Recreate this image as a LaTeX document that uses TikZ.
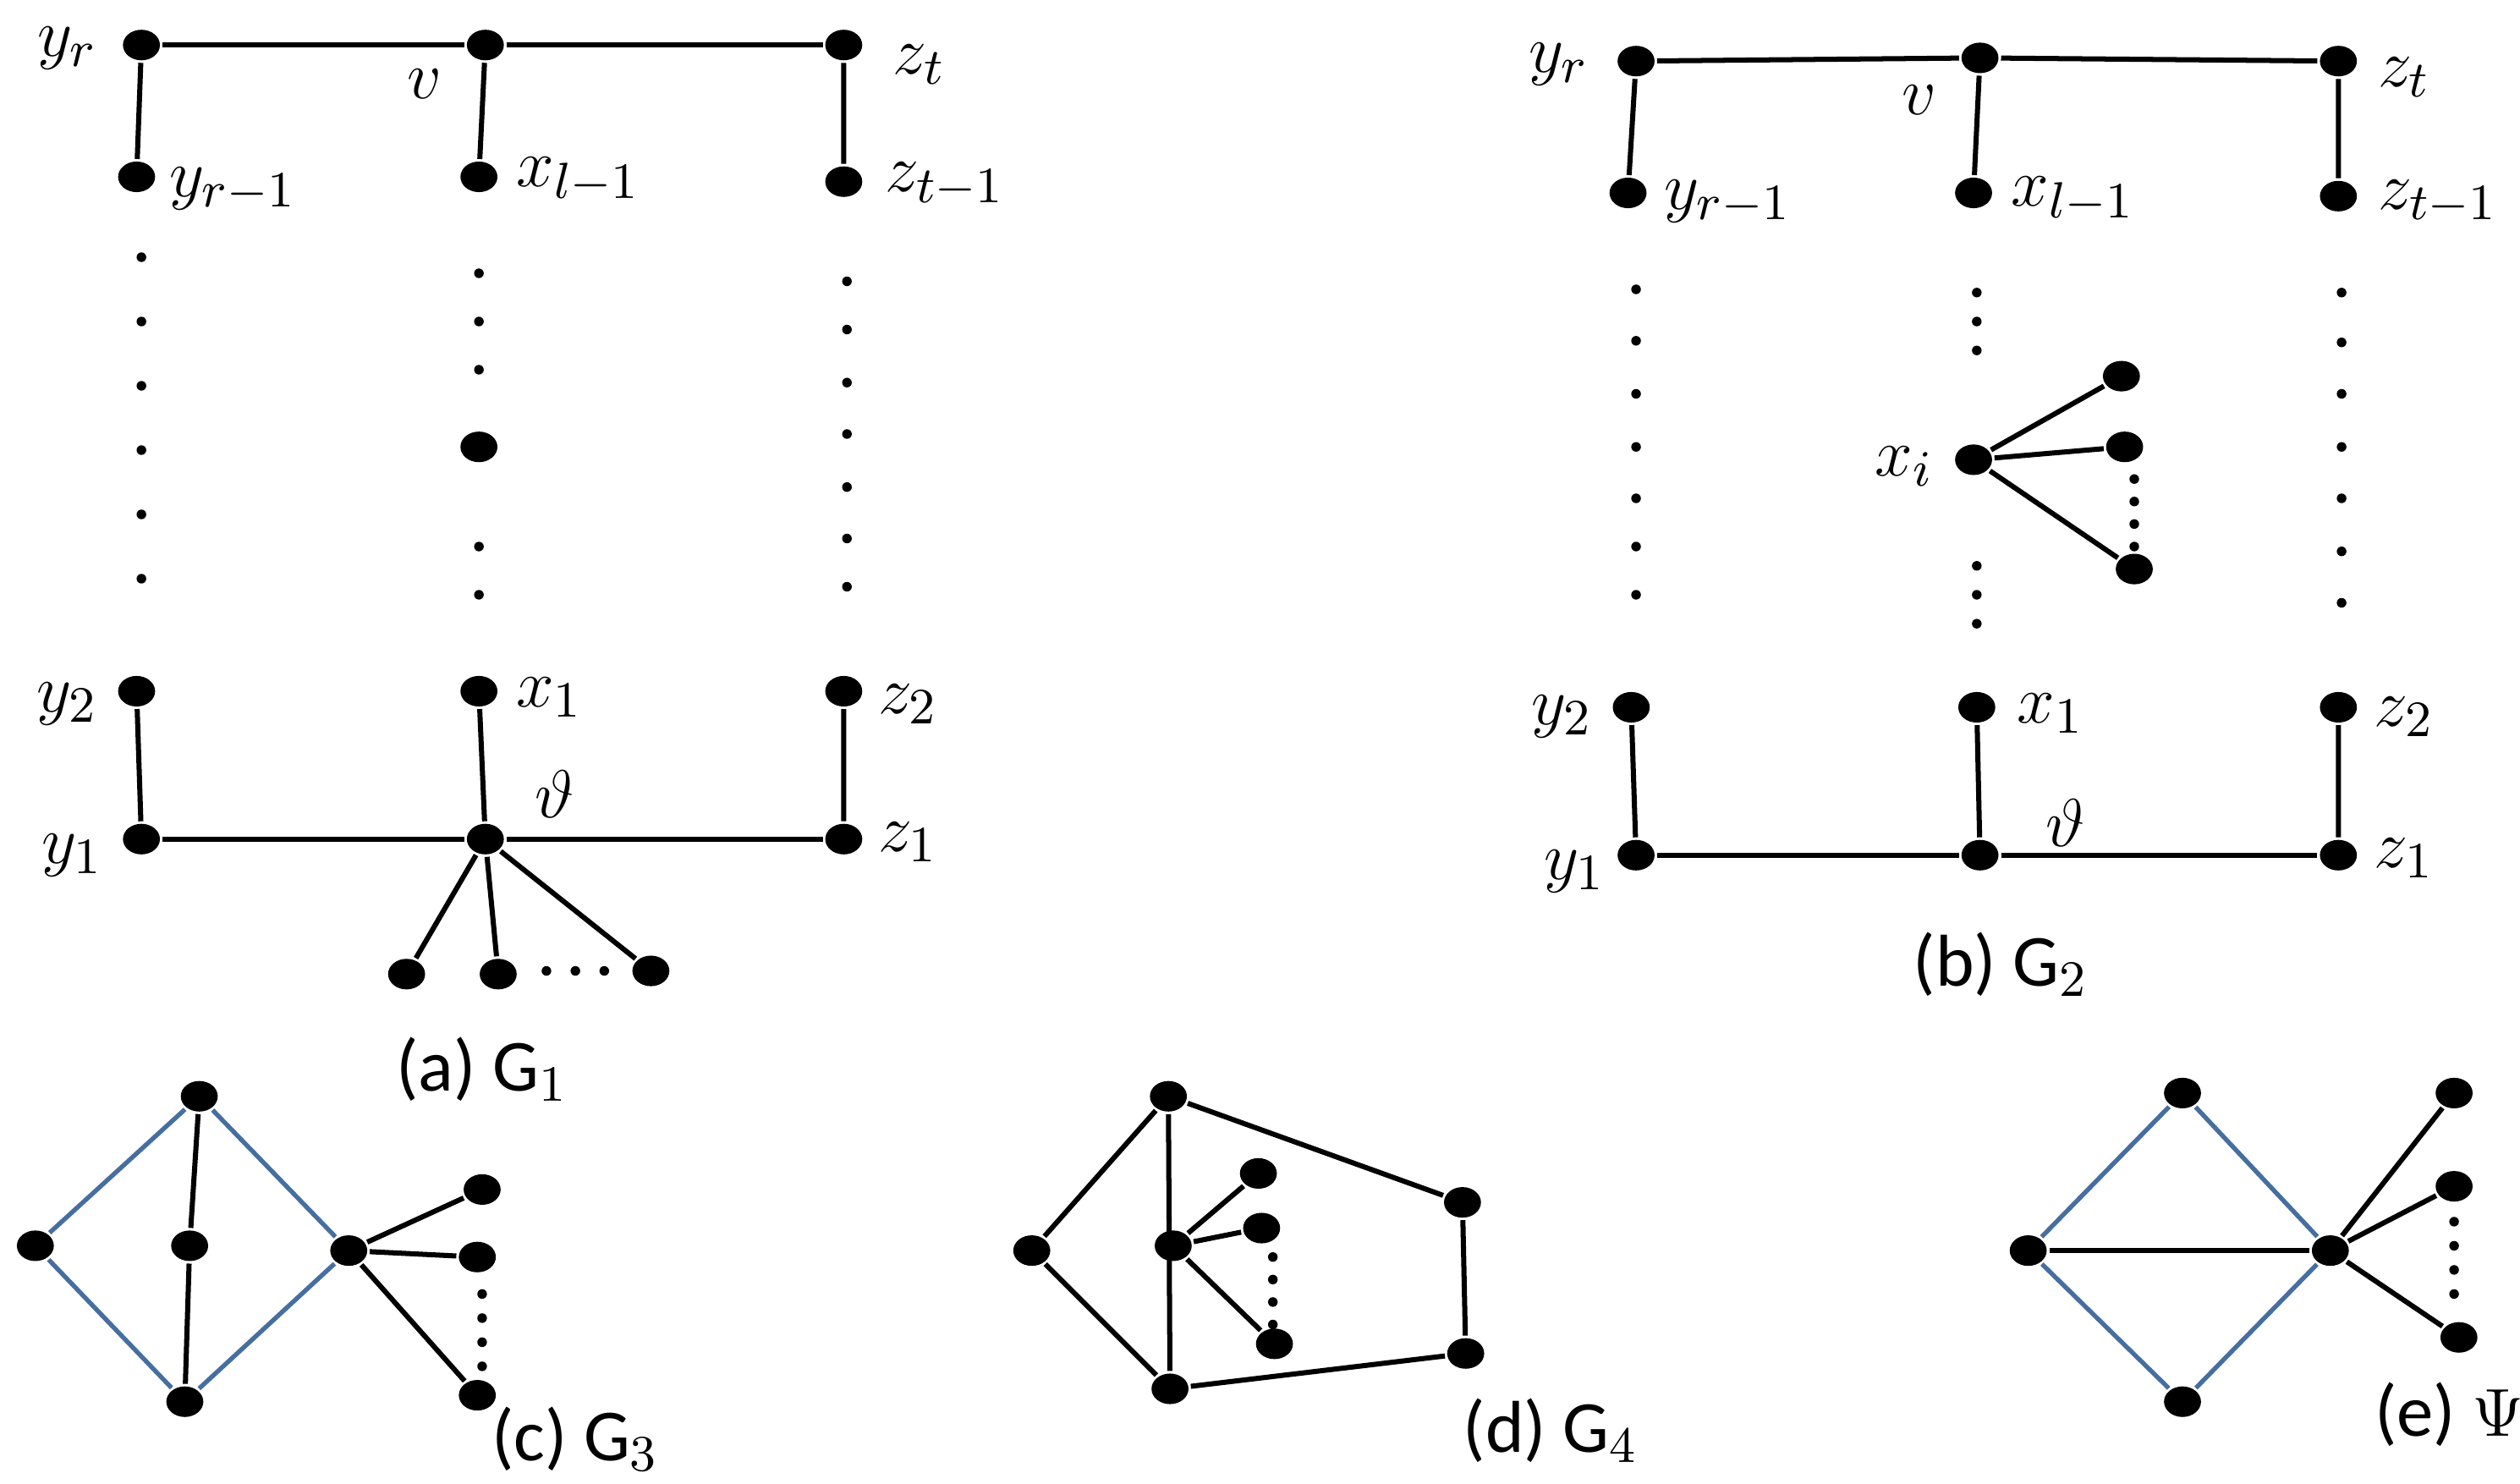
\documentclass[tikz,border=0pt]{standalone}
\usepackage{fontspec}
\newfontfamily\capfont{Carlito}
\usetikzlibrary{shapes}
\definecolor{edgeblue}{RGB}{70,110,160}
\begin{document}
\begin{tikzpicture}[x=0.01cm,y=-0.01cm,
    v/.style={ellipse,fill=black,inner sep=0pt,minimum width=0.23cm,minimum height=0.19cm},
    dot/.style={circle,fill=black,inner sep=0pt,minimum size=0.06cm},
    lab/.style={font=\fontsize{13}{15}\selectfont},
    capt/.style={font=\capfont\fontsize{13}{15}\selectfont},
    bl/.style={draw=edgeblue,thick},
    every path/.style={line width=0.9pt}
    ]
    \useasboundingbox (0,0) rectangle (1568,923);
    % (a)
    \node[v] (ar) at (88,28) {};
    \node[v] (av) at (302,28) {};
    \node[v] (at) at (525,28) {};
    \node[v] (ar1) at (85,110) {};
    \node[v] (al1) at (298,110) {};
    \node[v] (at1) at (525,113) {};
    \node[v] (am) at (298,278) {};
    \node[v] (ay2) at (85,430) {};
    \node[v] (ax1) at (298,430) {};
    \node[v] (az2) at (525,430) {};
    \node[v] (ay1) at (88,522) {};
    \node[v] (ath) at (302,522) {};
    \node[v] (az1) at (525,522) {};
    \node[v] (ap1) at (253,606) {};
    \node[v] (ap2) at (310,606) {};
    \node[v] (ap3) at (405,604) {};
    \draw (ar) -- (av) -- (at);
    \draw (ar) -- (ar1) (av) -- (al1) (at) -- (at1);
    \draw (ay2) -- (ay1) (ax1) -- (ath) (az2) -- (az1);
    \draw (ay1) -- (ath) -- (az1);
    \draw (ath) -- (ap1) (ath) -- (ap2) (ath) -- (ap3);
    \foreach \y in {160,200,240,280,320,360} \node[dot] at (88,\y) {};
    \foreach \y in {170,200,230,340,370} \node[dot] at (298,\y) {};
    \foreach \y in {175,205,238,270,303,335,365} \node[dot] at (527,\y) {};
    \foreach \x in {340,358,376} \node[dot] at (\x,604) {};
    \node[lab] at (42,30) {$y_r$};
    \node[lab] at (264,52) {$v$};
    \node[lab] at (572,40) {$z_t$};
    \node[lab] at (145,118) {$y_{r-1}$};
    \node[lab] at (360,112) {$x_{l-1}$};
    \node[lab] at (588,115) {$z_{t-1}$};
    \node[lab] at (42,438) {$y_2$};
    \node[lab] at (342,434) {$x_1$};
    \node[lab] at (565,438) {$z_2$};
    \node[lab] at (345,494) {$\vartheta$};
    \node[lab] at (45,532) {$y_1$};
    \node[lab] at (565,524) {$z_1$};
    \node[capt] at (300,665) {(a) G$_1$};
    % (b)
    \node[v] (br) at (1018,38) {};
    \node[v] (bv) at (1232,36) {};
    \node[v] (bt) at (1455,38) {};
    \node[v] (br1) at (1013,120) {};
    \node[v] (bl1) at (1228,120) {};
    \node[v] (bt1) at (1455,122) {};
    \node[v] (bxi) at (1228,286) {};
    \node[v] (bq1) at (1320,234) {};
    \node[v] (bq2) at (1322,278) {};
    \node[v] (bq3) at (1328,354) {};
    \node[v] (by2) at (1015,440) {};
    \node[v] (bx1) at (1230,440) {};
    \node[v] (bz2) at (1455,440) {};
    \node[v] (by1) at (1018,532) {};
    \node[v] (bth) at (1232,532) {};
    \node[v] (bz1) at (1455,532) {};
    \draw (br) -- (bv) -- (bt);
    \draw (br) -- (br1) (bv) -- (bl1) (bt) -- (bt1);
    \draw (by2) -- (by1) (bx1) -- (bth) (bz2) -- (bz1);
    \draw (by1) -- (bth) -- (bz1);
    \draw (bxi) -- (bq1) (bxi) -- (bq2) (bxi) -- (bq3);
    \foreach \y in {180,212,245,278,310,340,370} \node[dot] at (1018,\y) {};
    \foreach \y in {182,200,218,352,370,388} \node[dot] at (1230,\y) {};
    \foreach \y in {182,213,245,278,310,343,375} \node[dot] at (1457,\y) {};
    \foreach \y in {298,312,326,340} \node[dot] at (1328,\y) {};
    \node[lab] at (970,40) {$y_r$};
    \node[lab] at (1194,62) {$v$};
    \node[lab] at (1496,48) {$z_t$};
    \node[lab] at (1075,126) {$y_{r-1}$};
    \node[lab] at (1290,124) {$x_{l-1}$};
    \node[lab] at (1517,126) {$z_{t-1}$};
    \node[lab] at (1185,290) {$x_i$};
    \node[lab] at (972,446) {$y_2$};
    \node[lab] at (1276,444) {$x_1$};
    \node[lab] at (1496,446) {$z_2$};
    \node[lab] at (1285,512) {$\vartheta$};
    \node[lab] at (980,542) {$y_1$};
    \node[lab] at (1496,534) {$z_1$};
    \node[capt] at (1245,600) {(b) G$_2$};
    % (c)
    \node[v] (ct) at (124,682) {};
    \node[v] (cl) at (22,775) {};
    \node[v] (cm) at (118,775) {};
    \node[v] (cb) at (115,872) {};
    \node[v] (cr) at (217,778) {};
    \node[v] (cp1) at (300,740) {};
    \node[v] (cp2) at (297,782) {};
    \node[v] (cp3) at (297,868) {};
    \draw[bl] (cl) -- (ct) -- (cr) -- (cb) -- (cl);
    \draw (ct) -- (cm) -- (cb);
    \draw (cr) -- (cp1) (cr) -- (cp2) (cr) -- (cp3);
    \foreach \y in {805,820,835,850} \node[dot] at (300,\y) {};
    \node[capt] at (358,895) {(c) G$_3$};
    % (d)
    \node[v] (dt) at (727,682) {};
    \node[v] (dl) at (642,778) {};
    \node[v] (db) at (728,864) {};
    \node[v] (dm) at (730,775) {};
    \node[v] (dp1) at (783,730) {};
    \node[v] (dp2) at (785,764) {};
    \node[v] (dp3) at (793,836) {};
    \node[v] (drt) at (910,748) {};
    \node[v] (drb) at (912,842) {};
    \draw (dt) -- (dl) -- (db) -- (drb) -- (drt) -- (dt) -- (db);
    \draw (dm) -- (dp1) (dm) -- (dp2) (dm) -- (dp3);
    \foreach \y in {782,796,810,824} \node[dot] at (792,\y) {};
    \node[capt] at (965,890) {(d) G$_4$};
    % (e)
    \node[v] (et) at (1358,680) {};
    \node[v] (el) at (1262,778) {};
    \node[v] (eb) at (1358,872) {};
    \node[v] (eh) at (1450,778) {};
    \node[v] (ep1) at (1527,680) {};
    \node[v] (ep2) at (1527,738) {};
    \node[v] (ep3) at (1530,832) {};
    \draw[bl] (el) -- (et) -- (eh) -- (eb) -- (el);
    \draw (el) -- (eh);
    \draw (eh) -- (ep1) (eh) -- (ep2) (eh) -- (ep3);
    \foreach \y in {760,775,790,805} \node[dot] at (1527,\y) {};
    \node[capt] at (1524,880) {(e) $\Psi$};
\end{tikzpicture}
\end{document}
